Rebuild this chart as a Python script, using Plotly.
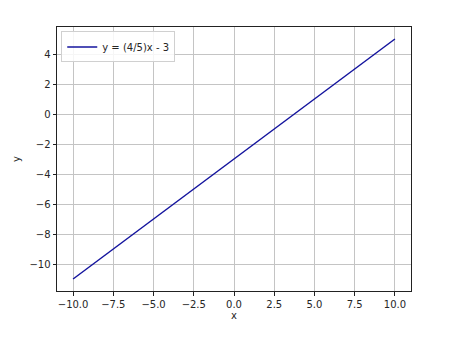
import plotly.graph_objects as go

# Data
x_vals = [-10, 10]
y_vals = [-11, 5]
series_name = "y = (4/5)x - 3"

x_tick_vals = [-10, -7.5, -5, -2.5, 0, 2.5, 5, 7.5, 10]
x_tick_text = ["\u221210.0", "\u22127.5", "\u22125.0", "\u22122.5", "0.0", "2.5", "5.0", "7.5", "10.0"]
y_tick_vals = [-10, -8, -6, -4, -2, 0, 2, 4]
y_tick_text = ["\u221210", "\u22128", "\u22126", "\u22124", "\u22122", "0", "2", "4"]

font_family = "DejaVu Sans, sans-serif"

fig = go.Figure()
fig.add_trace(go.Scatter(
    x=x_vals, y=y_vals, mode="lines", name=series_name,
    line=dict(color="#14149e", width=1.5),
))

axis_common = dict(
    showline=True, mirror=True, linecolor="#222222", linewidth=1,
    ticks="outside", ticklen=3.5, tickwidth=0.8, tickcolor="#222222",
    showgrid=True, gridcolor="#c4c4c4", gridwidth=1,
    zeroline=False,
    tickfont=dict(family=font_family, size=10, color="#262626"),
    title_font=dict(family=font_family, size=10, color="#262626"),
)

fig.update_xaxes(range=[-11, 11], tickvals=x_tick_vals, ticktext=x_tick_text,
                 title_text="x", title_standoff=2, **axis_common)
fig.update_yaxes(range=[-11.8, 5.8], tickvals=y_tick_vals, ticktext=y_tick_text,
                 title_text="y", title_standoff=6, **axis_common)

fig.update_layout(
    width=474, height=350,
    margin=dict(l=57, r=63, t=27, b=59, pad=0),
    paper_bgcolor="white", plot_bgcolor="white",
    font=dict(family=font_family, size=10, color="#262626"),
    showlegend=True,
    legend=dict(
        x=0.012, y=0.983, xanchor="left", yanchor="top",
        bgcolor="rgba(255,255,255,0.85)", bordercolor="#d0d0d0", borderwidth=1,
        font=dict(family=font_family, size=10, color="#262626"),
        itemwidth=30, tracegroupgap=0,
    ),
)

fig.write_html("out.html")
